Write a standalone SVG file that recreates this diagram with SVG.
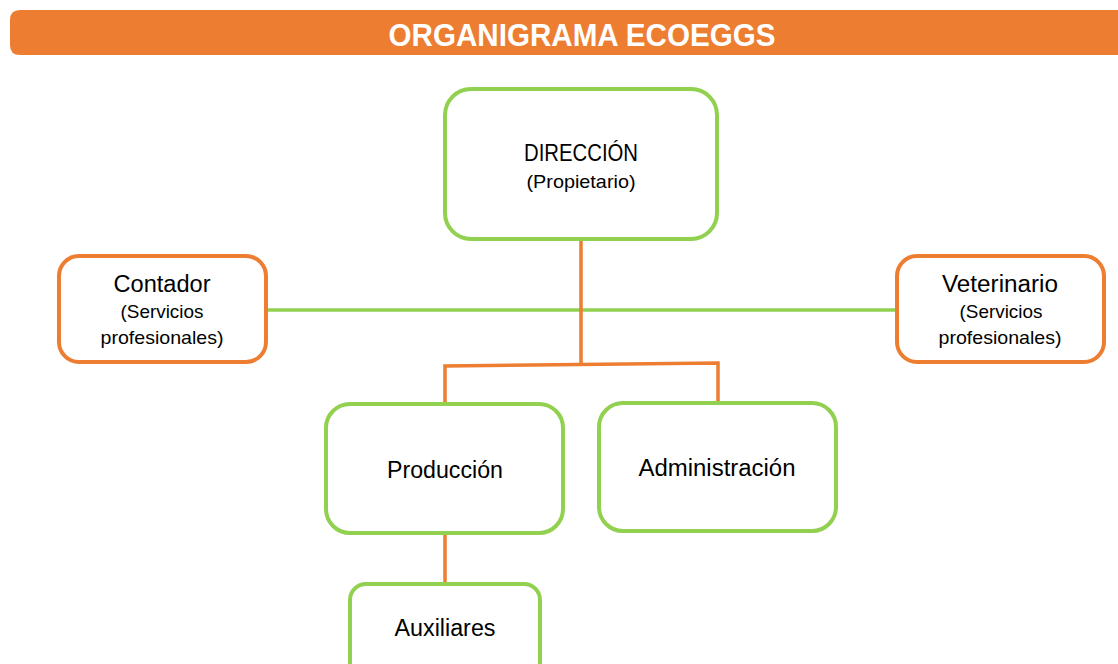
<svg xmlns="http://www.w3.org/2000/svg" width="1118" height="664" viewBox="0 0 1118 664">
<style>
.g{fill:#fff;stroke:#92D050;stroke-width:4}
.o{fill:#fff;stroke:#ED7D31;stroke-width:4}
.t{font-family:"Liberation Sans",Arial,sans-serif;fill:#000;text-anchor:middle}
.m{font-size:23px}
.s{font-size:18.5px}
.co{stroke:#ED7D31;stroke-width:3.5;fill:none}
.cg{stroke:#92D050;stroke-width:3.5;fill:none}
</style>
<rect width="1118" height="664" fill="#fff"/>
<g id="title">
<path d="M20,10 H1130 V55 H20 Q10,55 10,45 V20 Q10,10 20,10 Z" fill="#ED7D31"/>
<text x="582" y="45.5" font-family="'Liberation Sans',Arial,sans-serif" font-weight="bold" font-size="32" fill="#fff" text-anchor="middle" textLength="387" lengthAdjust="spacingAndGlyphs">ORGANIGRAMA ECOEGGS</text>
</g>
<g id="connectors">
<line class="cg" x1="266" y1="310" x2="897" y2="310"/>
<line class="co" x1="581" y1="239" x2="581" y2="364"/>
<path class="co" d="M445,404 V366 L718,363 V402"/>
<line class="co" x1="445" y1="533" x2="445" y2="584"/>
</g>
<g id="direccion">
<rect class="g" x="445" y="89" width="272" height="150" rx="26"/>
<text class="t m" x="581" y="161" textLength="114" lengthAdjust="spacingAndGlyphs">DIRECCIÓN</text>
<text class="t s" x="581" y="188" textLength="109" lengthAdjust="spacingAndGlyphs">(Propietario)</text>
</g>
<g id="contador">
<rect class="o" x="59" y="256" width="207" height="106" rx="20"/>
<text class="t m" x="162" y="292" textLength="97" lengthAdjust="spacingAndGlyphs">Contador</text>
<text class="t s" x="162" y="318" textLength="83" lengthAdjust="spacingAndGlyphs">(Servicios</text>
<text class="t s" x="162" y="344" textLength="123" lengthAdjust="spacingAndGlyphs">profesionales)</text>
</g>
<g id="veterinario">
<rect class="o" x="897" y="256" width="207" height="106" rx="20"/>
<text class="t m" x="1000" y="292" textLength="116" lengthAdjust="spacingAndGlyphs">Veterinario</text>
<text class="t s" x="1001" y="318" textLength="83" lengthAdjust="spacingAndGlyphs">(Servicios</text>
<text class="t s" x="1000" y="344" textLength="123" lengthAdjust="spacingAndGlyphs">profesionales)</text>
</g>
<g id="produccion">
<rect class="g" x="326" y="404" width="237" height="129" rx="24"/>
<text class="t m" x="445" y="478" textLength="116" lengthAdjust="spacingAndGlyphs">Producción</text>
</g>
<g id="administracion">
<rect class="g" x="599" y="403" width="237" height="128" rx="24"/>
<text class="t m" x="717" y="476" textLength="157" lengthAdjust="spacingAndGlyphs">Administración</text>
</g>
<g id="auxiliares">
<rect class="g" x="350" y="584" width="190" height="100" rx="16"/>
<text class="t m" x="445" y="636" textLength="101" lengthAdjust="spacingAndGlyphs">Auxiliares</text>
</g>
</svg>
